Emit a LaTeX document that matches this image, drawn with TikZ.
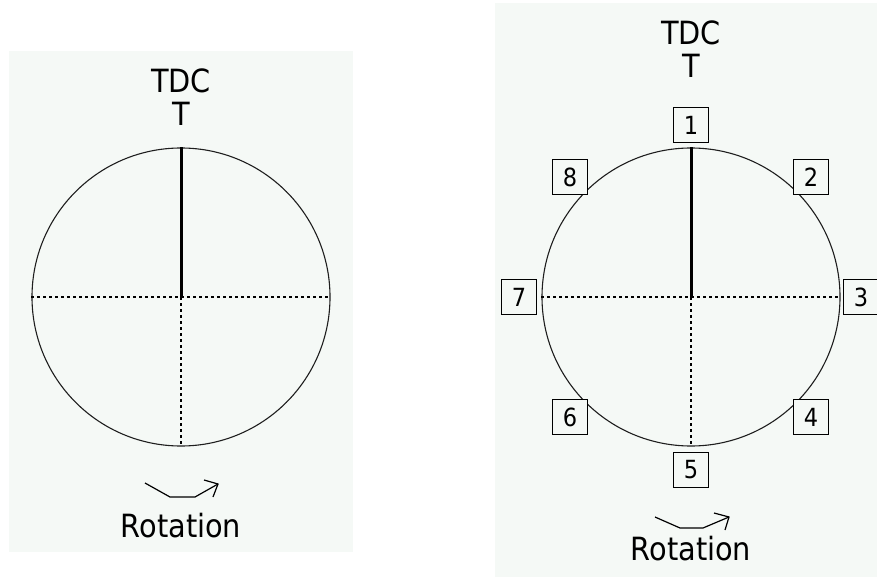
\documentclass[tikz,border=0pt]{standalone}
\usepackage{fontspec}
\setmainfont{DejaVu Sans Condensed}
\definecolor{panelbg}{RGB}{245,249,246}
\definecolor{rim}{RGB}{30,30,30}
\begin{document}
\begin{tikzpicture}[x=1pt,y=-1pt,
  panel/.style={fill=panelbg,draw=none},
  wheel/.style={circle,draw=rim,line width=1.1pt,minimum size=298pt,inner sep=0pt},
  marker/.style={line width=3pt,black},
  axis/.style={line width=1.5pt,black,dash pattern=on 3pt off 3pt},
  lbl/.style={font=\fontsize{32}{36}\selectfont,anchor=base,inner sep=0pt},
  numbox/.style={draw=black,line width=1.2pt,minimum width=35pt,minimum height=35pt,inner sep=0pt,font=\fontsize{25}{28}\selectfont,fill=panelbg},
  rot/.style={line width=1.2pt,black,line join=round}]
\useasboundingbox (0,0) rectangle (877,577);
\fill[white] (0,0) rectangle (877,577);
% panels
\path[panel] (9,51) rectangle (353,552);
\path[panel] (495,3) rectangle (877,577);

% ---------- left diagram ----------
\node[wheel] (cl) at (181,297) {};
\draw[axis] (cl.west) -- (cl.east);
\draw[axis] (cl.center) -- (cl.south);
\draw[marker] (cl.center) -- (cl.north);
\node[lbl] (tdcl) at (181,93) {TDC};
\node[lbl] (tl) at (181,126) {T};
\coordinate (al1) at (145,483);
\coordinate (al2) at (170,497);
\coordinate (al3) at (195,497);
\coordinate (al4) at (218,484);
\coordinate (ah1) at (204,480);
\coordinate (ah2) at (213,497);
\draw[rot] (al1) -- (al2) -- (al3) -- (al4);
\draw[rot] (ah1) -- (al4) -- (ah2);
\node[lbl] (rotl) at (181,537) {Rotation};

% ---------- right diagram ----------
\node[wheel] (cr) at (691,297) {};
\draw[axis] (cr.west) -- (cr.east);
\draw[axis] (cr.center) -- (cr.south);
\draw[marker] (cr.center) -- (cr.north);
\node[lbl] (tdcr) at (691,45) {TDC};
\node[lbl] (tr) at (691,78) {T};
\node[numbox] (b1) at (691,125) {1};
\node[numbox] (b2) at (811,177) {2};
\node[numbox] (b3) at (861,297) {3};
\node[numbox] (b4) at (811,417) {4};
\node[numbox] (b5) at (691,470) {5};
\node[numbox] (b6) at (570,417) {6};
\node[numbox] (b7) at (519,297) {7};
\node[numbox] (b8) at (570,177) {8};
\coordinate (ar1) at (655,517);
\coordinate (ar2) at (680,528);
\coordinate (ar3) at (703,528);
\coordinate (ar4) at (729,517);
\coordinate (bh1) at (714,513);
\coordinate (bh2) at (725,530);
\draw[rot] (ar1) -- (ar2) -- (ar3) -- (ar4);
\draw[rot] (bh1) -- (ar4) -- (bh2);
\node[lbl] (rotr) at (691,560) {Rotation};
\end{tikzpicture}
\end{document}
